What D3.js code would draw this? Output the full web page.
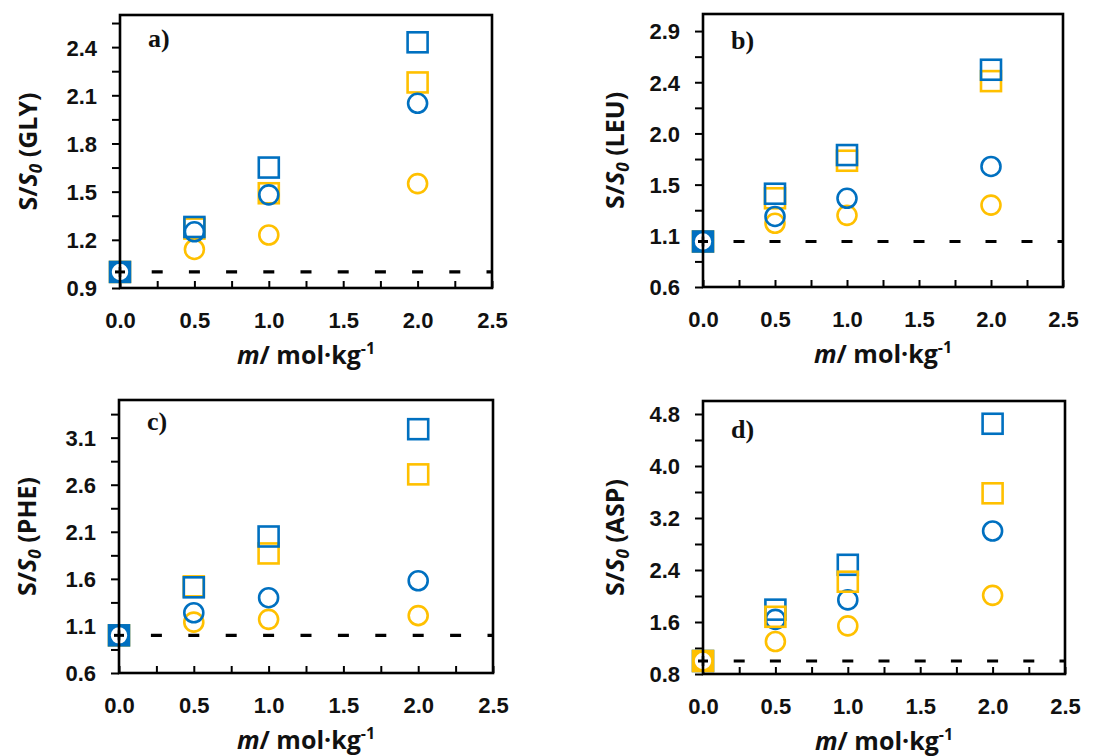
<!DOCTYPE html>
<html lang="en">
<head>
    <meta charset="UTF-8">
    <title>S/S0 vs molality</title>
    <script src="https://cdnjs.cloudflare.com/ajax/libs/d3/7.8.5/d3.min.js"></script>
    <style>
        body {
            margin: 0;
            padding: 0;
            background: #fff;
        }
        svg {
            display: block;
            font-family: "Open Sans", Arial, sans-serif;
        }
        .tick text {
            font-size: 22px;
            font-weight: 700;
            fill: #111;
        }
        .tick line {
            stroke: #000;
            stroke-width: 2px;
        }
        .domain {
            display: none;
        }
        .ytitle, .xtitle {
            font-size: 25px;
            font-weight: 700;
            fill: #111;
        }
        .plabel {
            font-family: "Liberation Serif", "Times New Roman", serif;
            font-size: 26px;
            font-weight: 700;
            fill: #111;
        }
    </style>
</head>
<body>
    <svg></svg>
    <script>
        // molality values (x)
        const molality = [0, 0.5, 1, 2];
        const xTicks = [0, 0.25, 0.5, 0.75, 1, 1.25, 1.5, 1.75, 2, 2.25, 2.5];

        // a) GLY
        const glySqBlue = [1.00, 1.28, 1.65, 2.43];
        const glySqGold = [1.00, 1.27, 1.49, 2.18];
        const glyCiBlue = [1.00, 1.25, 1.48, 2.05];
        const glyCiGold = [1.00, 1.14, 1.23, 1.55];
        const glyYTicks = [0.9, 1.2, 1.5, 1.8, 2.1, 2.4];
        const glyYLabels = ["0.9", "1.2", "1.5", "1.8", "2.1", "2.4"];

        // b) LEU
        const leuSqBlue = [1.00, 1.42, 1.76, 2.51];
        const leuSqGold = [1.00, 1.38, 1.71, 2.41];
        const leuCiBlue = [1.00, 1.22, 1.38, 1.66];
        const leuCiGold = [1.00, 1.16, 1.23, 1.32];
        const leuYTicks = [0.6, 1.05, 1.5, 1.95, 2.4, 2.85];
        const leuYLabels = ["0.6", "1.1", "1.5", "2.0", "2.4", "2.9"];

        // c) PHE
        const pheSqBlue = [1.00, 1.51, 2.05, 3.19];
        const pheSqGold = [1.00, 1.52, 1.87, 2.71];
        const pheCiBlue = [1.00, 1.24, 1.40, 1.58];
        const pheCiGold = [1.00, 1.14, 1.17, 1.21];
        const pheYTicks = [0.6, 1.1, 1.6, 2.1, 2.6, 3.1];
        const pheYLabels = ["0.6", "1.1", "1.6", "2.1", "2.6", "3.1"];

        // d) ASP
        const aspSqBlue = [1.00, 1.79, 2.48, 4.65];
        const aspSqGold = [1.00, 1.68, 2.22, 3.58];
        const aspCiBlue = [1.00, 1.64, 1.94, 3.00];
        const aspCiGold = [1.00, 1.30, 1.54, 2.01];
        const aspYTicks = [0.8, 1.6, 2.4, 3.2, 4.0, 4.8];
        const aspYLabels = ["0.8", "1.6", "2.4", "3.2", "4.0", "4.8"];

        const reference = 1.0;
        const blue = "#0070C0";
        const gold = "#FFC000";

        const panels = [
            { label: "a)", name: "GLY", box: { l: 120, r: 492, t: 15, b: 288 }, yMax: 2.6,
              yTicks: glyYTicks, yLabels: glyYLabels, titleX: 28, xTitleY: 364, labelY: 47,
              series: [[glySqGold, "sq", gold], [glyCiGold, "ci", gold], [glySqBlue, "sq", blue], [glyCiBlue, "ci", blue]] },
            { label: "b)", name: "LEU", box: { l: 703, r: 1063, t: 14, b: 287 }, yMax: 3.0,
              yTicks: leuYTicks, yLabels: leuYLabels, titleX: 615, xTitleY: 363, labelY: 49,
              series: [[leuSqGold, "sq", gold], [leuCiGold, "ci", gold], [leuSqBlue, "sq", blue], [leuCiBlue, "ci", blue]] },
            { label: "c)", name: "PHE", box: { l: 119, r: 493, t: 400, b: 673 }, yMax: 3.5,
              yTicks: pheYTicks, yLabels: pheYLabels, titleX: 27, xTitleY: 749, labelY: 430,
              series: [[pheSqGold, "sq", gold], [pheCiGold, "ci", gold], [pheSqBlue, "sq", blue], [pheCiBlue, "ci", blue]] },
            { label: "d)", name: "ASP", box: { l: 703, r: 1065, t: 401, b: 674 }, yMax: 5.0,
              yTicks: aspYTicks, yLabels: aspYLabels, titleX: 615, xTitleY: 750, labelY: 438,
              series: [[aspSqBlue, "sq", blue], [aspCiBlue, "ci", blue], [aspSqGold, "sq", gold], [aspCiGold, "ci", gold]] }
        ];

        const svg = d3.select("svg").attr("width", 1102).attr("height", 756);

        panels.forEach((p, i) => {
            const b = p.box;
            const x = d3.scaleLinear().domain([0, 2.5]).range([b.l, b.r]);
            const y = d3.scaleLinear().domain([p.yTicks[0], p.yMax]).range([b.b, b.t]);
            const g = svg.append("g");

            // clip for marks that run to the frame
            const clipId = "clip" + i;
            svg.append("clipPath").attr("id", clipId)
                .append("rect")
                .attr("x", b.l - 8).attr("y", b.t)
                .attr("width", b.r - b.l + 8).attr("height", b.b - b.t);

            // y axis: majors labelled, minors halfway
            const yStep = p.yTicks[1] - p.yTicks[0];
            const yAll = [];
            p.yTicks.forEach(t => { yAll.push(t); if (t + yStep / 2 < p.yMax) yAll.push(t + yStep / 2); });
            g.append("g")
                .attr("transform", `translate(${b.l},0)`)
                .call(d3.axisLeft(y).tickValues(yAll).tickSize(8).tickPadding(15)
                    .tickFormat(d => {
                        const k = p.yTicks.findIndex(t => Math.abs(t - d) < 1e-9);
                        return k >= 0 ? p.yLabels[k] : "";
                    }));
            g.selectAll(".tick text").attr("dy", "0.36em");

            // x axis, ticks inside
            g.append("g")
                .attr("class", "xax")
                .attr("transform", `translate(0,${b.b})`)
                .call(d3.axisBottom(x).tickValues(xTicks).tickSize(-7).tickPadding(24)
                    .tickFormat(d => (d * 2) % 1 === 0 ? d.toFixed(1) : ""));

            // dashed reference line, one dash at every minor x tick
            const step = x(0.25) - x(0);
            const dash = 11;
            g.append("line")
                .attr("clip-path", `url(#${clipId})`)
                .attr("x1", x(0) - dash / 2).attr("x2", x(2.5) + dash)
                .attr("y1", y(reference)).attr("y2", y(reference))
                .attr("stroke", "#000").attr("stroke-width", 3.2)
                .attr("stroke-dasharray", `${dash},${step - dash}`);

            // markers
            p.series.forEach(([vals, shape, color]) => {
                const pts = molality.map((m, j) => ({ m, v: vals[j] }));
                if (shape === "sq") {
                    g.selectAll(null).data(pts).enter().append("rect")
                        .attr("x", d => x(d.m) - 10).attr("y", d => y(d.v) - 10)
                        .attr("width", 20).attr("height", 20)
                        .attr("fill", d => d.m === 0 ? color : "none")
                        .attr("stroke", color).attr("stroke-width", 2.6);
                } else {
                    g.selectAll(null).data(pts).enter().append("circle")
                        .attr("cx", d => x(d.m)).attr("cy", d => y(d.v)).attr("r", 9.5)
                        .attr("fill", d => d.m === 0 ? "#fff" : "none")
                        .attr("stroke", color).attr("stroke-width", 2.6);
                }
            });

            // small cross where the reference line meets the y axis
            const cx = x(0), cy = y(reference);
            g.append("line").attr("x1", cx - 5).attr("x2", cx + 5).attr("y1", cy).attr("y2", cy)
                .attr("stroke", "#000").attr("stroke-width", 3);
            g.append("line").attr("x1", cx).attr("x2", cx).attr("y1", cy - 5).attr("y2", cy + 5)
                .attr("stroke", "#000").attr("stroke-width", 2.5);

            // frame
            g.append("rect")
                .attr("x", b.l).attr("y", b.t)
                .attr("width", b.r - b.l).attr("height", b.b - b.t)
                .attr("fill", "none").attr("stroke", "#000").attr("stroke-width", 2.6);

            // panel letter
            g.append("text").attr("class", "plabel")
                .attr("x", b.l + 28).attr("y", p.labelY)
                .text(p.label);

            // y title
            const yt = g.append("text").attr("class", "ytitle")
                .attr("text-anchor", "middle")
                .attr("transform", `translate(${p.titleX + 9},${(b.t + b.b) / 2}) rotate(-90)`);
            yt.append("tspan").text("S/");
            yt.append("tspan").attr("font-style", "italic").text("S");
            yt.append("tspan").attr("font-style", "italic").attr("font-size", "17px")
                .attr("dy", 5).text("0");
            yt.append("tspan").attr("dy", -5).text(" (" + p.name + ")");

            // x title
            const xt = g.append("text").attr("class", "xtitle")
                .attr("text-anchor", "middle")
                .attr("x", (b.l + b.r) / 2).attr("y", p.xTitleY);
            xt.append("tspan").attr("font-style", "italic").text("m");
            xt.append("tspan").text("/ mol\u00B7kg");
            xt.append("tspan").attr("font-size", "16px").attr("dy", -10).text("-1");
        });
    </script>
</body>
</html>
